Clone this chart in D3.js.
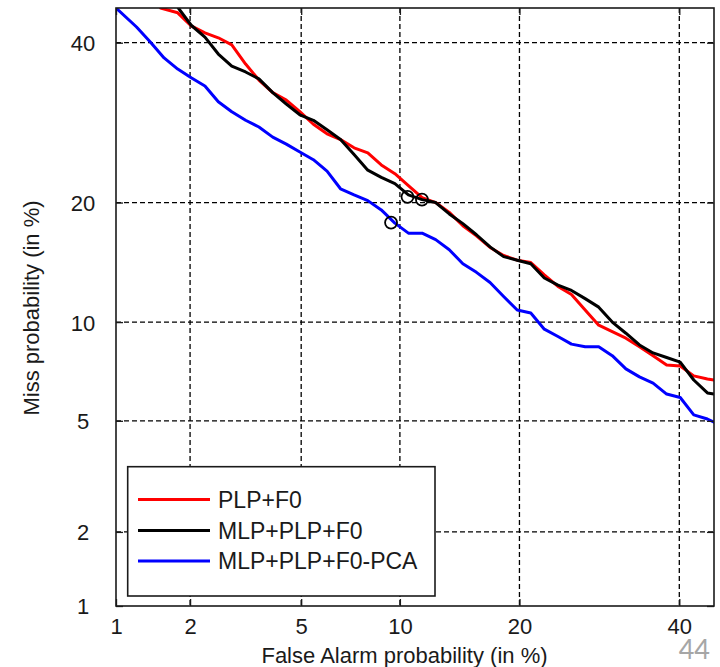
<!DOCTYPE html>
<html><head><meta charset="utf-8">
<script src="https://cdn.jsdelivr.net/npm/d3@7"></script>
<style>html,body{margin:0;padding:0;background:#fff;} svg{display:block;}</style>
</head><body>
<svg id="chart" width="720" height="667"></svg>
<script>
// ---- data (percent values) ----
const tickValues = [1, 2, 5, 10, 20, 40];
const tickLabels = ["1", "2", "5", "10", "20", "40"];
const seriesNames = ["PLP+F0", "MLP+PLP+F0", "MLP+PLP+F0-PCA"];
const seriesColors = ["#ff0000", "#000000", "#0000ff"];
const xLabel = "False Alarm probability (in %)";
const yLabel = "Miss probability (in %)";
const pageNumber = "44";

// [false alarm %, miss %]
const plpF0 = [[1.53,45],[1.79,44.3],[2.02,42.4],[2.28,41.4],[2.56,40.7],[2.87,39.7],[3.22,37.0],[3.59,34.8],[4.01,33.1],[4.46,32.1],[4.95,30.6],[5.48,29.0],[6.06,27.8],[6.68,27.1],[7.35,26.1],[8.08,25.5],[8.85,24.1],[9.68,23.1],[10.56,21.8],[11.51,20.5],[12.51,20.0],[13.57,19.0],[14.69,17.7],[15.87,16.75],[17.11,15.7],[18.41,15.0],[19.77,14.6],[21.19,14.4],[22.66,13.4],[24.20,12.5],[25.78,11.9],[27.43,10.8],[29.12,9.8],[30.85,9.4],[32.64,9.0],[34.46,8.5],[36.32,8.0],[38.21,7.5],[40.13,7.45],[42.07,6.95],[44.04,6.8],[45.0,6.75]];
const mlpPlpF0 = [[1.80,45],[2.02,42.5],[2.28,40.8],[2.56,38.4],[2.87,36.7],[3.22,35.9],[3.59,34.95],[4.01,33.1],[4.46,31.6],[4.95,30.2],[5.48,29.5],[6.06,28.3],[6.68,27.1],[7.35,25.3],[8.08,23.5],[8.85,22.7],[9.68,22.0],[10.56,20.8],[11.51,20.3],[12.51,20.0],[13.57,18.85],[14.69,17.9],[15.87,16.85],[17.11,15.75],[18.41,14.9],[19.77,14.6],[21.19,14.3],[22.66,13.15],[24.20,12.6],[25.78,12.2],[27.43,11.6],[29.12,11.0],[30.85,10.0],[32.64,9.3],[34.46,8.6],[36.32,8.15],[38.21,7.9],[40.13,7.65],[42.07,6.75],[44.04,6.15],[45.0,6.1]];
const mlpPlpF0Pca = [[1.0,45],[1.22,42.25],[1.39,40.1],[1.58,37.85],[1.79,36.3],[2.02,35.1],[2.28,34.0],[2.56,31.9],[2.87,30.6],[3.22,29.5],[3.59,28.65],[4.01,27.4],[4.46,26.55],[4.95,25.6],[5.48,24.7],[6.06,23.4],[6.68,21.45],[7.35,20.8],[8.08,20.2],[8.85,19.25],[9.68,17.95],[10.56,17.0],[11.51,17.0],[12.51,16.4],[13.57,15.5],[14.69,14.3],[15.87,13.6],[17.11,12.8],[18.41,11.75],[19.77,10.8],[21.19,10.6],[22.66,9.55],[24.20,9.1],[25.78,8.65],[27.43,8.5],[29.12,8.5],[30.85,8.0],[32.64,7.3],[34.46,6.9],[36.32,6.6],[38.21,6.1],[40.13,5.95],[42.07,5.23],[44.04,5.07],[45.0,4.95]];
const minDcfPoints = [[10.5,20.6],[11.5,20.3],[9.44,18.0]];

const seriesData = [plpF0, mlpPlpF0, mlpPlpF0Pca];

// ---- probit (inverse normal CDF, Acklam) ----
function probit(p){
  const a=[-3.969683028665376e+01,2.209460984245205e+02,-2.759285104469687e+02,1.383577518672690e+02,-3.066479806614716e+01,2.506628277459239e+00];
  const b=[-5.447609879822406e+01,1.615858368580409e+02,-1.556989798598866e+02,6.680131188771972e+01,-1.328068155288572e+01];
  const c=[-7.784894002430293e-03,-3.223964580411365e-01,-2.400758277161838e+00,-2.549671010229583e+00,4.374664141464968e+00,2.938163982698783e+00];
  const d=[7.784695709041462e-03,3.224671290700398e-01,2.445134137142996e+00,3.754408661907416e+00];
  const plow=0.02425;
  let q,r;
  if(p<plow){q=Math.sqrt(-2*Math.log(p));return (((((c[0]*q+c[1])*q+c[2])*q+c[3])*q+c[4])*q+c[5])/((((d[0]*q+d[1])*q+d[2])*q+d[3])*q+1);}
  if(p<=1-plow){q=p-0.5;r=q*q;return (((((a[0]*r+a[1])*r+a[2])*r+a[3])*r+a[4])*r+a[5])*q/(((((b[0]*r+b[1])*r+b[2])*r+b[3])*r+b[4])*r+1);}
  q=Math.sqrt(-2*Math.log(1-p));return -(((((c[0]*q+c[1])*q+c[2])*q+c[3])*q+c[4])*q+c[5])/((((d[0]*q+d[1])*q+d[2])*q+d[3])*q+1);
}
function probitScale(domain, range){
  const lin = d3.scaleLinear().domain(domain.map(v => probit(v/100))).range(range);
  function s(v){ return lin(probit(v/100)); }
  s.domain = () => domain.slice();
  s.range = () => lin.range();
  s.copy = () => probitScale(domain, lin.range());
  return s;
}

// ---- layout ----
const L = 116, R = 714, T = 8, B = 606;
const x = probitScale([1, 45], [L, R]);
const y = probitScale([1, 45], [B, T]);
const font = "'Liberation Sans', Arial, sans-serif";
const ink = "#1a1a1a";

const svg = d3.select("#chart");
svg.append("rect").attr("width",720).attr("height",667).attr("fill","#fff");

svg.append("defs").append("clipPath").attr("id","plotclip")
  .append("rect").attr("x",L).attr("y",T).attr("width",R-L).attr("height",B-T);

// grid
const gridVals = tickValues.filter(v => v > 1);
const grid = svg.append("g").attr("stroke","#000").attr("stroke-width",1.3).attr("stroke-dasharray","5,3");
grid.selectAll("line.v").data(gridVals).join("line").attr("class","v")
  .attr("x1",d=>x(d)).attr("x2",d=>x(d)).attr("y1",T).attr("y2",B);
grid.selectAll("line.h").data(gridVals).join("line").attr("class","h")
  .attr("y1",d=>y(d)).attr("y2",d=>y(d)).attr("x1",L).attr("x2",R);

// curves
const line = d3.line().x(d=>x(d[0])).y(d=>y(d[1]));
const curves = svg.append("g").attr("clip-path","url(#plotclip)");
seriesData.forEach((data,i)=>{
  curves.append("path").datum(data).attr("d",line)
    .attr("fill","none").attr("stroke",seriesColors[i]).attr("stroke-width",3)
    .attr("stroke-linejoin","round").attr("stroke-linecap","round");
});
curves.selectAll("circle").data(minDcfPoints).join("circle")
  .attr("cx",d=>x(d[0])).attr("cy",d=>y(d[1])).attr("r",6)
  .attr("fill","none").attr("stroke","#000").attr("stroke-width",1.8);

// axes
function styleAxis(g){
  g.select(".domain").remove();
  g.selectAll(".tick line").attr("stroke",ink).attr("stroke-width",1.3);
  g.selectAll("text").attr("fill",ink).style("font-family",font).style("font-size","22px");
}
const fmt = v => tickLabels[tickValues.indexOf(v)];
svg.append("g").attr("transform",`translate(0,${B})`)
  .call(d3.axisBottom(x).tickValues(tickValues).tickFormat(fmt).tickSizeInner(-7).tickSizeOuter(0).tickPadding(12))
  .call(styleAxis);
svg.append("g").attr("transform",`translate(${L},0)`)
  .call(d3.axisLeft(y).tickValues(tickValues).tickFormat(fmt).tickSizeInner(-7).tickSizeOuter(0).tickPadding(33))
  .call(styleAxis)
  .call(g=>g.selectAll("text").attr("text-anchor","middle").attr("dy","0.36em"));
svg.append("g").attr("transform",`translate(0,${T})`)
  .call(d3.axisTop(x).tickValues(tickValues).tickFormat("").tickSizeInner(-7).tickSizeOuter(0))
  .call(styleAxis);
svg.append("g").attr("transform",`translate(${R},0)`)
  .call(d3.axisRight(y).tickValues(tickValues).tickFormat("").tickSizeInner(-7).tickSizeOuter(0))
  .call(styleAxis);

// frame
svg.append("rect").attr("x",L).attr("y",T).attr("width",R-L).attr("height",B-T)
  .attr("fill","none").attr("stroke",ink).attr("stroke-width",1.6);

// axis labels
svg.append("text").attr("x",404.5).attr("y",663).attr("text-anchor","middle")
  .attr("fill",ink).style("font-family",font).style("font-size","22px").text(xLabel);
svg.append("text").attr("transform","translate(38.5,308) rotate(-90)").attr("text-anchor","middle")
  .attr("fill",ink).style("font-family",font).style("font-size","22px").text(yLabel);

// legend
const lg = svg.append("g");
lg.append("rect").attr("x",127.7).attr("y",466.7).attr("width",307.3).attr("height",129.3)
  .attr("fill","#fff").attr("stroke",ink).attr("stroke-width",1.6);
const legendY = [499.5, 530.5, 561];
seriesNames.forEach((name,i)=>{
  lg.append("line").attr("x1",138).attr("x2",210).attr("y1",legendY[i]).attr("y2",legendY[i])
    .attr("stroke",seriesColors[i]).attr("stroke-width",3);
  lg.append("text").attr("x",218).attr("y",legendY[i]).attr("dy","0.36em")
    .attr("fill",ink).style("font-family",font).style("font-size","23px").text(name);
});

// page number
svg.append("text").attr("x",710).attr("y",659).attr("text-anchor","end")
  .attr("fill","#a6a6a6").style("font-family","Lato, 'Open Sans', sans-serif").style("font-size","27px").text(pageNumber);
</script>
</body></html>
